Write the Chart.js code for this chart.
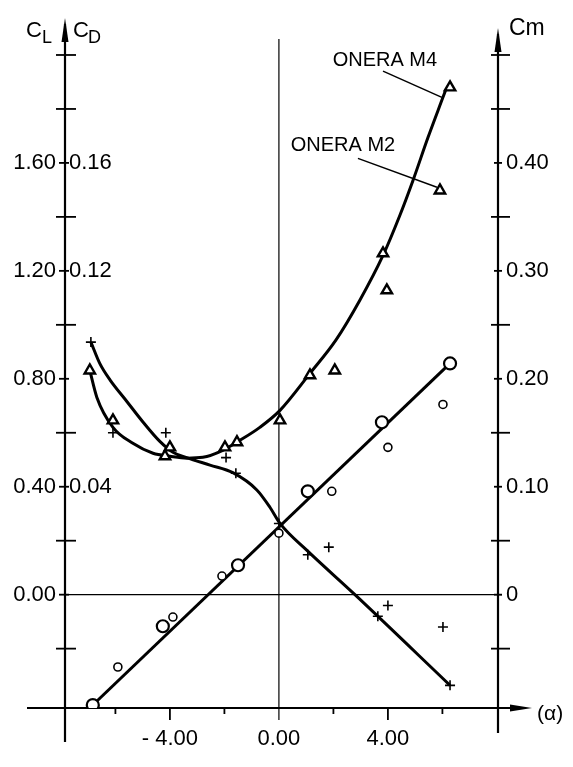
<!DOCTYPE html>
<html>
<head>
<meta charset="utf-8">
<script src="https://cdn.jsdelivr.net/npm/chart.js@4"></script>
<style>
  html, body { margin: 0; padding: 0; background: #fff; }
  #chart { display: block; }
</style>
</head>
<body>
<canvas id="chart" width="573" height="767"></canvas>
<script>
// values, angle of attack in degrees
const clLineAlpha = [-6.83, 6.28];
const clLineValues = [-0.409, 0.857];

const clM4Alpha = [-6.83, -4.26, -1.50, 1.06, 3.78, 6.28];
const clM4Values = [-0.409, -0.117, 0.109, 0.383, 0.639, 0.857];
const clM2Alpha = [-5.91, -3.89, -2.09, 0.00, 1.94, 4.00, 6.02];
const clM2Values = [-0.268, -0.083, 0.069, 0.228, 0.383, 0.546, 0.705];

const cdCurveAlpha = [-6.94, -6.68, -6.09, -5.36, -4.62, -4.00, -3.38, -2.79, -2.06, -1.43, -0.70,
  0.04, 1.14, 2.09, 2.97, 3.82, 4.44, 4.92, 5.47, 6.02, 6.12];
const cdCurveValues = [0.0831, 0.0731, 0.0620, 0.0561, 0.0524, 0.0513, 0.0506, 0.0509, 0.0535, 0.0572, 0.0620,
  0.0683, 0.0820, 0.0943, 0.1091, 0.1257, 0.1406, 0.1535, 0.1694, 0.1843, 0.1870];

const cdM4Alpha = [-6.94, -4.18, -1.54, 0.04, 1.14, 3.82, 6.28];
const cdM4Values = [0.0831, 0.0513, 0.0565, 0.0646, 0.0813, 0.1265, 0.1880];
const cdM2Alpha = [-6.09, -4.00, -1.98, 2.05, 3.96, 5.91];
const cdM2Values = [0.0646, 0.0546, 0.0546, 0.0831, 0.1128, 0.1498];

const cmCurveAlpha = [-6.90, -6.57, -6.20, -5.58, -4.99, -4.37, -3.89, -3.38, -2.53, -1.69, -0.81, -0.33,
  0.04, 1.03, 2.79, 6.28];
const cmCurveValues = [0.234, 0.214, 0.199, 0.179, 0.160, 0.142, 0.132, 0.127, 0.120, 0.113, 0.097, 0.081,
  0.066, 0.041, 0.000, -0.084];

const cmM4Alpha = [-6.90, -1.58, 0.00, 1.06, 3.63, 6.28];
const cmM4Values = [0.234, 0.1125, 0.066, 0.037, -0.020, -0.084];
const cmM2Alpha = [-6.09, -4.15, -1.94, 1.83, 4.00, 6.02];
const cmM2Values = [0.150, 0.150, 0.127, 0.044, -0.010, -0.030];

// axis ticks
const alphaTicks = [-6, -4, -2, 0, 2, 4, 6];
const alphaLabels = ['- 4.00', '0.00', '4.00'];
const alphaLabelValues = [-4, 0, 4];
const clTicks = [-0.2, 0, 0.2, 0.4, 0.6, 0.8, 1.0, 1.2, 1.4, 1.6, 1.8, 2.0];
const clLabelValues = [0, 0.4, 0.8, 1.2, 1.6];
const cdLabelValues = [0.04, 0.12, 0.16];
const cmTicks = [-0.05, 0, 0.05, 0.1, 0.15, 0.2, 0.25, 0.3, 0.35, 0.4, 0.45, 0.5];
const cmLabelValues = [0, 0.1, 0.2, 0.3, 0.4];

const SANS = '"Liberation Sans", Arial, sans-serif';
const tickFont = { family: SANS, size: 22 };

function pts(xs, ys) {
  return xs.map((x, i) => ({ x: x, y: ys[i] }));
}

function line(ctx, x1, y1, x2, y2) {
  ctx.beginPath();
  ctx.moveTo(x1, y1);
  ctx.lineTo(x2, y2);
  ctx.stroke();
}

function tri(ctx, p1, p2, p3) {
  ctx.beginPath();
  ctx.moveTo(p1[0], p1[1]);
  ctx.lineTo(p2[0], p2[1]);
  ctx.lineTo(p3[0], p3[1]);
  ctx.closePath();
  ctx.fill();
}

const axesPlugin = {
  id: 'handAxes',
  beforeDatasetsDraw(chart) {
    const { ctx, chartArea: a, scales } = chart;
    const xs = scales.x, ys = scales.y, ym = scales.yCm;
    const x0 = xs.getPixelForValue(0), y0 = ys.getPixelForValue(0);
    ctx.save();
    ctx.strokeStyle = '#000';
    ctx.fillStyle = '#000';

    // zero lines
    ctx.lineWidth = 1.2;
    line(ctx, a.left, y0, a.right + 4, y0);
    line(ctx, x0, a.top + 11, x0, a.bottom + 12);

    // main axes
    ctx.lineWidth = 2.2;
    line(ctx, a.left, a.bottom + 34, a.left, a.top - 4);
    tri(ctx, [a.left, a.top - 10], [a.left - 3.5, a.top + 14], [a.left + 3.5, a.top + 14]);
    line(ctx, a.right, a.bottom + 25, a.right, a.top + 6);
    tri(ctx, [a.right, a.top], [a.right - 3.5, a.top + 24], [a.right + 3.5, a.top + 24]);
    line(ctx, 27, a.bottom, a.right + 16, a.bottom);
    tri(ctx, [a.right + 34, a.bottom], [a.right + 12, a.bottom - 3.5], [a.right + 12, a.bottom + 3.5]);

    // tick marks
    ctx.lineWidth = 1.8;
    ys.ticks.forEach(t => {
      const y = ys.getPixelForValue(t.value);
      if (clLabelValues.includes(t.value)) line(ctx, a.left - 6, y, a.left + 4, y);
      else line(ctx, a.left - 9, y, a.left + 11, y);
    });
    ym.ticks.forEach(t => {
      const y = ym.getPixelForValue(t.value);
      if (cmLabelValues.includes(t.value)) line(ctx, a.right - 4, y, a.right + 4, y);
      else line(ctx, a.right - 7, y, a.right + 12, y);
    });
    xs.ticks.forEach(t => {
      if (t.value === 0) return;
      const x = xs.getPixelForValue(t.value);
      const len = alphaLabelValues.includes(t.value) ? 12 : 6;
      line(ctx, x, a.bottom, x, a.bottom + len);
    });
    ctx.restore();
  },
  afterDraw(chart) {
    const { ctx, scales } = chart;
    const xs = scales.x, ys = scales.y;
    ctx.save();
    ctx.fillStyle = '#000';
    ctx.strokeStyle = '#000';
    ctx.textBaseline = 'alphabetic';

    // axis titles
    ctx.font = '22px ' + SANS;
    ctx.fillText('C', 26, 37);
    ctx.fillText('C', 73, 37);
    ctx.font = '18px ' + SANS;
    ctx.fillText('L', 42, 43);
    ctx.fillText('D', 88, 43);
    ctx.font = '23px ' + SANS;
    ctx.fillText('Cm', 509, 35);
    ctx.font = '21px ' + SANS;
    ctx.fillText('(α)', 537, 720);

    // curve labels with leader lines
    ctx.font = '20px ' + SANS;
    ctx.textAlign = 'center';
    ctx.textBaseline = 'middle';
    ctx.fillText('ONERA M4', xs.getPixelForValue(3.89), ys.getPixelForValue(1.98));
    ctx.fillText('ONERA M2', xs.getPixelForValue(2.35), ys.getPixelForValue(1.665));
    ctx.lineWidth = 1.5;
    line(ctx, xs.getPixelForValue(3.82), ys.getPixelForValue(1.94), xs.getPixelForValue(5.98), ys.getPixelForValue(1.843));
    line(ctx, xs.getPixelForValue(2.90), ys.getPixelForValue(1.617), xs.getPixelForValue(5.80), ys.getPixelForValue(1.51));
    ctx.restore();
  }
};

const curveStyle = {
  showLine: true,
  borderColor: '#000',
  borderWidth: 3,
  pointRadius: 0,
  pointHoverRadius: 0,
  order: 2
};

function markers(style, radius, width) {
  return {
    showLine: false,
    pointStyle: style,
    pointRadius: radius,
    pointHoverRadius: radius,
    pointBorderWidth: width,
    pointBorderColor: '#000',
    pointBackgroundColor: '#fff',
    borderColor: '#000',
    order: 1
  };
}

new Chart(document.getElementById('chart'), {
  type: 'scatter',
  data: {
    datasets: [
      Object.assign({ label: 'CL', data: pts(clLineAlpha, clLineValues), yAxisID: 'y', tension: 0 }, curveStyle),
      Object.assign({ label: 'CD', data: pts(cdCurveAlpha, cdCurveValues), yAxisID: 'yCD', cubicInterpolationMode: 'monotone' }, curveStyle),
      Object.assign({ label: 'Cm', data: pts(cmCurveAlpha, cmCurveValues), yAxisID: 'yCm', cubicInterpolationMode: 'monotone' }, curveStyle),
      Object.assign({ label: 'CL M4', data: pts(clM4Alpha, clM4Values), yAxisID: 'y' }, markers('circle', 6, 2.2)),
      Object.assign({ label: 'CL M2', data: pts(clM2Alpha, clM2Values), yAxisID: 'y' }, markers('circle', 4, 1.6)),
      Object.assign({ label: 'CD M4', data: pts(cdM4Alpha, cdM4Values), yAxisID: 'yCD' }, markers('triangle', 6, 2.4)),
      Object.assign({ label: 'CD M2', data: pts(cdM2Alpha, cdM2Values), yAxisID: 'yCD' }, markers('triangle', 6, 2.4)),
      Object.assign({ label: 'Cm M4', data: pts(cmM4Alpha, cmM4Values), yAxisID: 'yCm' }, markers('cross', 5, 1.6)),
      Object.assign({ label: 'Cm M2', data: pts(cmM2Alpha, cmM2Values), yAxisID: 'yCm' }, markers('cross', 5, 1.6))
    ]
  },
  options: {
    responsive: false,
    animation: false,
    devicePixelRatio: 1,
    layout: { padding: { top: 28, left: 0, right: 0, bottom: 0 } },
    plugins: { legend: { display: false }, tooltip: { enabled: false } },
    scales: {
      x: {
        type: 'linear', position: 'bottom', min: -7.85, max: 8.04,
        grid: { display: false, drawTicks: false }, border: { display: false },
        ticks: {
          autoSkip: false, maxRotation: 0, padding: 18, color: '#000', font: tickFont,
          callback: v => { const i = alphaLabelValues.indexOf(v); return i < 0 ? '' : alphaLabels[i]; }
        },
        afterBuildTicks: s => { s.ticks = alphaTicks.map(v => ({ value: v })); },
        afterFit: s => { s.height = 59; }
      },
      y: {
        type: 'linear', position: 'left', weight: 10, min: -0.42, max: 2.10,
        grid: { display: false, drawTicks: false }, border: { display: false },
        ticks: {
          autoSkip: false, padding: 9, color: '#000', font: tickFont,
          callback: v => clLabelValues.includes(v) ? v.toFixed(2) : ''
        },
        afterBuildTicks: s => { s.ticks = clTicks.map(v => ({ value: v })); },
        afterFit: s => { s.width = 65; }
      },
      yCD: {
        type: 'linear', position: 'left', weight: 0, min: -0.042, max: 0.210,
        grid: { display: false, drawTicks: false }, border: { display: false },
        ticks: {
          autoSkip: false, mirror: true, padding: 4, color: '#000', font: tickFont,
          callback: v => v.toFixed(2)
        },
        afterBuildTicks: s => { s.ticks = cdLabelValues.map(v => ({ value: v })); },
        afterFit: s => { s.width = 0; }
      },
      yCm: {
        type: 'linear', position: 'right', min: -0.105, max: 0.525,
        grid: { display: false, drawTicks: false }, border: { display: false },
        ticks: {
          autoSkip: false, padding: 8, color: '#000', font: tickFont,
          callback: v => cmLabelValues.includes(v) ? (v === 0 ? '0' : v.toFixed(2)) : ''
        },
        afterBuildTicks: s => { s.ticks = cmTicks.map(v => ({ value: v })); },
        afterFit: s => { s.width = 75; }
      }
    }
  },
  plugins: [axesPlugin]
});
</script>
</body>
</html>
